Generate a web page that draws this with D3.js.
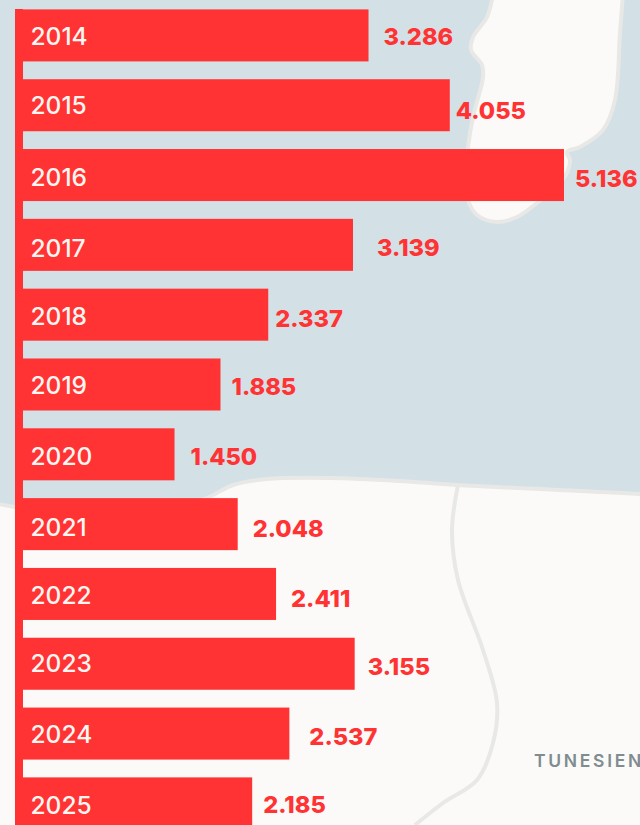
<!DOCTYPE html>
<html>
<head>
<meta charset="utf-8">
<script src="https://cdn.jsdelivr.net/npm/d3@7"></script>
<style>
  html, body { margin: 0; padding: 0; overflow: hidden; background: #d3e0e6; }
  svg { display: block; font-family: Inter, sans-serif; }
</style>
</head>
<body>
<svg id="chart" width="640" height="825"></svg>
<script>
const years = ['2014', '2015', '2016', '2017', '2018', '2019', '2020', '2021', '2022', '2023', '2024', '2025'];
const values = [3286, 4055, 5136, 3139, 2337, 1885, 1450, 2048, 2411, 3155, 2537, 2185];

// the value labels sit a bit off the bar end in the original, each by its own amount
const labelNudgeX = [15, 6, 11, 24, 7, 11, 16, 15, 15, 13, 20, 11];
const labelNudgeY = [1, 5, 3, 3, 4, 2, 2, 4, 5, 3, 3, 1];
const yearNudgeY = [1, 0, 2, 3, 2, 1, 2, 3, 1, -1, 1, 2];

// map outlines behind the bars
const islandOutline = [[493, -6], [487, 17], [473, 37], [471, 50], [482, 65], [483, 77], [473, 117], [468, 147],
  [466, 175], [468, 200], [477, 215], [497, 222], [517, 217], [537, 203], [553, 190], [567, 173], [570, 160],
  [567, 152], [580, 147], [603, 130], [615, 100], [620, 33], [623, -6]];
const coastOutline = [[-6, 503], [15, 507], [60, 512], [120, 515], [170, 510], [207, 498], [233, 485], [267, 479],
  [330, 478], [400, 481], [457, 485], [640, 494], [650, 495]];
const borderOutline = [[458, 485], [452, 530], [458, 580], [483, 650], [497, 703], [493, 743], [477, 780],
  [443, 803], [415, 825]];

const red = '#ff3333';
const sea = '#d3e0e6';
const land = '#fbfaf8';
const landEdge = '#e8e8e6';

const svg = d3.select('#chart');

const lineGen = d3.line().curve(d3.curveCatmullRom.alpha(0.5));

svg.append('rect').attr('width', 640).attr('height', 825).attr('fill', sea);

svg.append('path')
  .attr('d', lineGen(islandOutline) + 'Z')
  .attr('fill', land)
  .attr('stroke', landEdge)
  .attr('stroke-width', 4);

svg.append('path')
  .attr('d', lineGen(coastOutline) + 'L650,835L-6,835Z')
  .attr('fill', land)
  .attr('stroke', landEdge)
  .attr('stroke-width', 4);

svg.append('path')
  .attr('d', lineGen(borderOutline))
  .attr('fill', 'none')
  .attr('stroke', landEdge)
  .attr('stroke-width', 4);

svg.append('text')
  .attr('x', 534)
  .attr('y', 767)
  .attr('font-size', 17.5)
  .attr('font-weight', 600)
  .attr('letter-spacing', 2.7)
  .attr('fill', '#7f8c90')
  .text('TUNESIEN');

const x = d3.scaleLinear().domain([0, 5136]).range([21.3, 564]);
const y = d3.scaleBand().domain(years).range([9.4, 829.4]).paddingInner(0.255).paddingOuter(0);

// baseline bar running down the left side
svg.append('rect')
  .attr('x', 15)
  .attr('y', 9)
  .attr('width', 8)
  .attr('height', 816)
  .attr('fill', red);

svg.selectAll('rect.bar')
  .data(values)
  .join('rect')
  .attr('class', 'bar')
  .attr('x', 15)
  .attr('y', (d, i) => y(years[i]))
  .attr('width', d => x(d) - 15)
  .attr('height', y.bandwidth())
  .attr('fill', red);

svg.selectAll('text.year')
  .data(years)
  .join('text')
  .attr('class', 'year')
  .attr('x', 30.5)
  .attr('y', (d, i) => y(d) + y.bandwidth() / 2 + yearNudgeY[i])
  .attr('dy', '0.36em')
  .attr('font-size', 24.5)
  .attr('font-weight', 500)
  .attr('fill', '#fff6f2')
  .text(d => d);

const fmt = d3.format(',');

svg.selectAll('text.value')
  .data(values)
  .join('text')
  .attr('class', 'value')
  .attr('x', (d, i) => x(d) + labelNudgeX[i])
  .attr('y', (d, i) => y(years[i]) + y.bandwidth() / 2 + labelNudgeY[i])
  .attr('dy', '0.36em')
  .attr('font-size', 23.6)
  .attr('font-weight', 800)
  .attr('fill', red)
  .text(d => fmt(d).replace(',', '.'));
</script>
</body>
</html>
